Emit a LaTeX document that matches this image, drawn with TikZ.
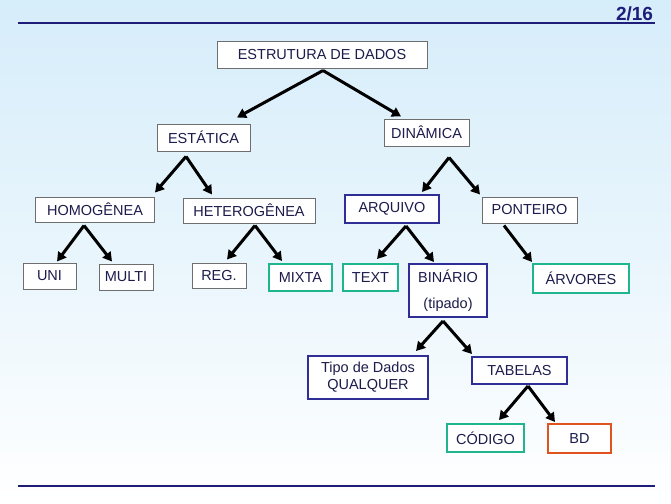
\documentclass[tikz,border=0pt]{standalone}
\usepackage{fontspec}
\setmainfont{Liberation Sans}
\usetikzlibrary{arrows.meta,calc}
\definecolor{bgtop}{HTML}{D6EDFA}
\definecolor{txt}{HTML}{1C1C4C}
\definecolor{navy}{HTML}{2E2E96}
\definecolor{grn}{HTML}{1FB58F}
\definecolor{org}{HTML}{E0521E}
\definecolor{gry}{HTML}{6E6E6E}
\definecolor{rule}{HTML}{1E1E7A}
\tikzset{
  box/.style={draw=gry, line width=1pt, fill=white, rectangle, inner sep=0pt,
    text=txt, font=\fontsize{14.5}{17}\selectfont},
  navybox/.style={box, draw=navy, line width=2pt},
  grnbox/.style={box, draw=grn, line width=2pt},
  orgbox/.style={box, draw=org, line width=2pt},
  arr/.style={line width=3pt, -{Triangle[length=9pt,width=10pt]}}
}
\begin{document}
\begin{tikzpicture}[x=1pt,y=-1pt]
\useasboundingbox (0,0) rectangle (671,503);
\shade[top color=bgtop, bottom color=white, middle color=white!45!bgtop] (0,0) rectangle (671,503);
% rules
\draw[rule, line width=2pt] (18,23) -- (655,23);
\draw[rule, line width=2pt] (18,486) -- (655,486);
\node[text=rule, font=\fontsize{19}{22}\selectfont\bfseries, anchor=base, inner sep=0pt] (pg) at (634.5,21) {2/16};
% nodes
\node[box, minimum width=210pt, minimum height=26pt] (title) at (322,55) {ESTRUTURA DE DADOS};
\node[box, minimum width=93pt, minimum height=27pt] (estatica) at (203.5,137.5) {ESTÁTICA};
\node[box, minimum width=85pt, minimum height=27pt] (dinamica) at (426.5,132.5) {DINÂMICA};
\node[box, minimum width=119pt, minimum height=25pt] (homog) at (95,209.5) {HOMOGÊNEA};
\node[box, minimum width=132pt, minimum height=25pt] (heterog) at (249,210.5) {HETEROGÊNEA};
\node[box, minimum width=53pt, minimum height=26pt] (uni) at (49.5,276) {UNI};
\node[box, minimum width=54pt, minimum height=26pt] (multi) at (126,277) {MULTI};
\node[box, minimum width=54pt, minimum height=25pt] (reg) at (219,275.5) {REG.};
\node[grnbox, minimum width=63pt, minimum height=27pt] (mixta) at (300.5,277.5) {MIXTA};
\node[navybox, minimum width=94pt, minimum height=28pt] (arquivo) at (392,209) {ARQUIVO};
\node[box, minimum width=95pt, minimum height=26pt] (ponteiro) at (529.5,210) {PONTEIRO};
\node[grnbox, minimum width=55pt, minimum height=27pt] (text) at (370.5,277.5) {TEXT};
\node[navybox, minimum width=78pt, minimum height=53pt, align=center] (binario) at (448,290.5) {BINÁRIO\\[9pt](tipado)};
\node[grnbox, minimum width=96pt, minimum height=29pt] (arvores) at (581,278.5) {ÁRVORES};
\node[navybox, minimum width=120pt, minimum height=43pt, align=center] (tipo) at (368,377.5) {Tipo de Dados\\QUALQUER};
\node[navybox, minimum width=95pt, minimum height=27pt] (tabelas) at (519.5,370.5) {TABELAS};
\node[grnbox, minimum width=77pt, minimum height=28pt] (codigo) at (485.5,438) {CÓDIGO};
\node[orgbox, minimum width=63pt, minimum height=29pt] (bd) at (579.5,438.5) {BD};
% connectors
\draw[arr] ($(title.south)+(1,2)$) -- ($(estatica.north)+(33.5,-6)$);
\draw[arr] ($(title.south)+(1,2)$) -- ($(dinamica.north)+(-25.5,-2)$);
\draw[arr] ($(estatica.south)+(-17.5,5)$) -- ($(homog.north)+(60,-4)$);
\draw[arr] ($(estatica.south)+(-17.5,5)$) -- ($(heterog.north)+(-37,-3)$);
\draw[arr] ($(dinamica.south)+(22.5,11)$) -- ($(arquivo.north)+(30,-2)$);
\draw[arr] ($(dinamica.south)+(22.5,11)$) -- ($(ponteiro.north)+(-49.5,-2)$);
\draw[arr] ($(homog.south)+(-11,3)$) -- ($(uni.north)+(7.5,-1)$);
\draw[arr] ($(homog.south)+(-11,3)$) -- ($(multi.north)+(-14,-2)$);
\draw[arr] ($(heterog.south)+(6,2)$) -- ($(reg.north)+(8,-3)$);
\draw[arr] ($(heterog.south)+(6,2)$) -- ($(mixta.north)+(-18.5,-2)$);
\draw[arr] ($(arquivo.south)+(14,2)$) -- ($(text.north)+(6.5,-4)$);
\draw[arr] ($(arquivo.south)+(14,2)$) -- ($(binario.north)+(-14,-1)$);
\draw[arr] ($(ponteiro.south)+(-25.5,2)$) -- ($(arvores.north)+(-49,-1)$);
\draw[arr] ($(binario.south)+(-5,3)$) -- ($(tipo.north)+(48,-4)$);
\draw[arr] ($(binario.south)+(-5,3)$) -- ($(tabelas.north)+(-47.5,-2)$);
\draw[arr] ($(tabelas.south)+(8.5,1)$) -- ($(codigo.north)+(13.5,-3)$);
\draw[arr] ($(tabelas.south)+(8.5,1)$) -- ($(bd.north)+(-24.5,-1)$);
\end{tikzpicture}
\end{document}
